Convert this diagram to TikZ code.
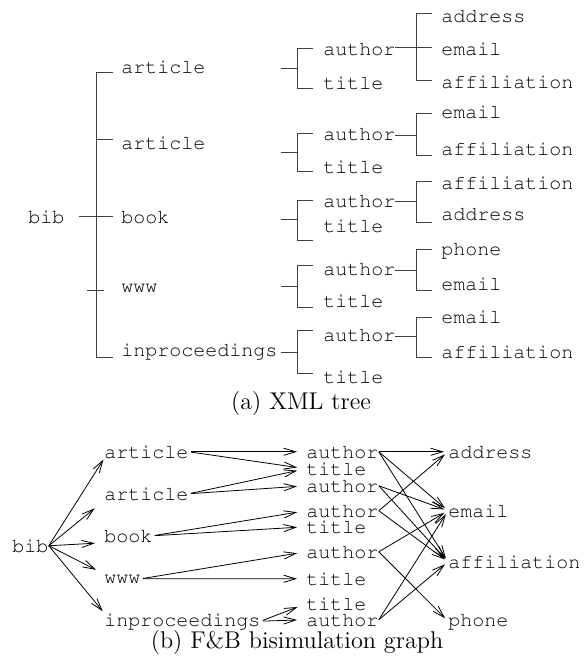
\documentclass[tikz,border=0pt]{standalone}
\usepackage[T1,TU]{fontenc}
\usetikzlibrary{arrows.meta}
\newcommand{\tagfont}{\fontencoding{T1}\fontfamily{pcr}\fontsize{10}{12}\selectfont}
\newcommand{\capfont}{\fontsize{12.1}{14}\selectfont}

\begin{document}
\begin{tikzpicture}[x=0.5pt, y=-0.5pt,
  tag/.style={font=\tagfont, anchor=base west, inner sep=0pt},
  branch/.style={line width=0.5pt, black!75},
  edge/.style={line width=0.4pt, -{Straight Barb[length=6pt,width=3.6pt]}}]

  % Fixed bounding box (one unit is one pixel)
  \path[use as bounding box] (0,0) rectangle (584,664);

  % (a) XML tree: labels
  \node[tag] (tbib) at (28,223) {bib};
  \foreach \n/\t/\y in {tart1/article/73, tart2/article/149, tbook/book/223,
                        twww/www/292, tinp/inproceedings/356}
    \node[tag] (\n) at (121,\y) {\t};
  \foreach \n/\t/\y in {tau1/author/55, tti1/title/89, tau2/author/140, tti2/title/173,
                        tau3/author/207, tti3/title/232, tau4/author/275, tti4/title/307,
                        tau5/author/341, tti5/title/383}
    \node[tag] (\n) at (323,\y) {\t};
  \foreach \n/\t/\y in {tad1/address/23, tem1/email/55, taf1/affiliation/88,
                        tem2/email/118, taf2/affiliation/155,
                        taf3/affiliation/189, tad3/address/220,
                        tph4/phone/255, tem4/email/290,
                        tem5/email/323, taf5/affiliation/358}
    \node[tag] (\n) at (441,\y) {\t};

  % (a) XML tree: branches from bib
  \draw[branch] (79,216) -- (113,216);
  \draw[branch] (113,72) -- (96,72) -- (96,357) -- (113,357);
  \draw[branch] (96,139) -- (113,139);
  \draw[branch] (87,290) -- (104,290);

  % branches to author and title
  \foreach \yt/\ya/\yb in {68/48/88, 152/133/171, 219/200/240, 286/265/307, 352/330/373} {
    \draw[branch] (281,\yt) -- (297,\yt);
    \draw[branch] (313,\ya) -- (297,\ya) -- (297,\yb) -- (313,\yb);
  }
  % branches from each author
  \foreach \yl/\yc/\yd in {47/13/80, 135/113/155, 201/181/222, 270/249/290, 336/317/357} {
    \draw[branch] (395,\yl) -- (416,\yl);
    \draw[branch] (432,\yc) -- (416,\yc) -- (416,\yd) -- (432,\yd);
  }
  \draw[branch] (416,47) -- (432,47);

  \node[font=\capfont, anchor=base] (capa) at (301,409) {(a) XML tree};

  % (b) F&B bisimulation graph: labels
  \node[tag] (bib) at (12,552) {bib};
  \foreach \n/\t/\y in {art1/article/458, art2/article/500, book/book/542,
                        www/www/583, inp/inproceedings/626}
    \node[tag] (\n) at (104,\y) {\t};
  \foreach \n/\t/\y in {au1/author/458, ti1/title/475, au2/author/492, au3/author/517,
                        ti3/title/533, au4/author/558, ti4/title/585, ti5/title/610,
                        au5/author/626}
    \node[tag] (\n) at (306,\y) {\t};
  \foreach \n/\t/\y in {addr/address/458, email/email/517, affil/affiliation/568,
                        phone/phone/626}
    \node[tag] (\n) at (448,\y) {\t};

  % edges from bib
  \foreach \n/\a/\s in {art1/south west/0.5pt, art2/south west/6pt, book/south west/4.5pt,
                        www/north west/4.5pt, inp/north west/1pt}
    \draw[edge, shorten >=\s] (bib.east) -- (\n.\a);

  % edges to the second column
  \foreach \s/\t in {art1/au1, art1/ti1, art2/ti1, art2/au2, book/au3, book/ti3,
                     www/au4, www/ti4, inp/ti5, inp/au5}
    \draw[edge, shorten <=1pt, shorten >=4.5pt] (\s.east) -- (\t.west);

  % edges to the third column
  \foreach \s/\t in {au1/addr, au1/email, au1/affil, au2/email, au2/affil,
                     au3/addr, au3/affil, au4/email, au4/phone, au5/email, au5/affil}
    \draw[edge, shorten >=2pt] (\s.east) -- (\t.west);

  \node[font=\capfont, anchor=base] (capb) at (297,648) {(b) F\&B bisimulation graph};

\end{tikzpicture}
\end{document}
